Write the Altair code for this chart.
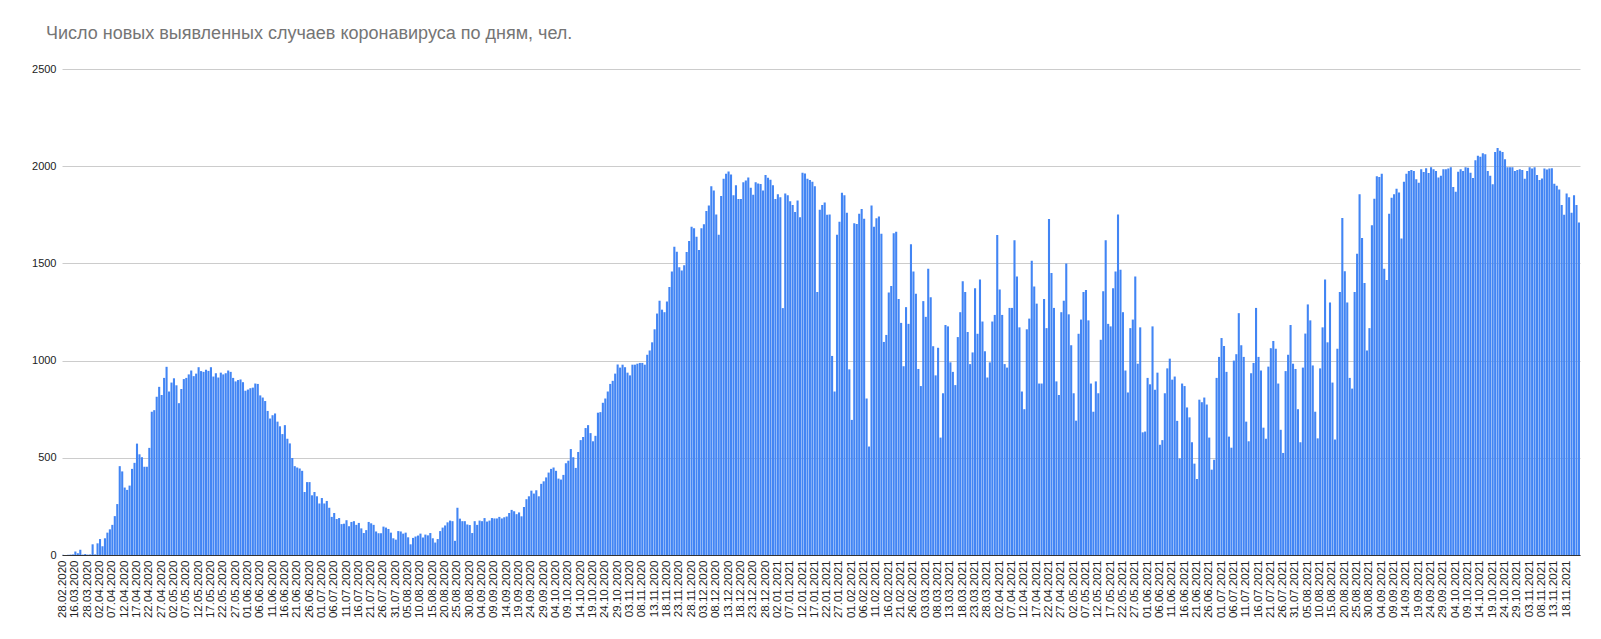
import altair as alt
import pandas as pd
from datetime import date, timedelta

# ---- categories (dates) ----
early_dates = ["28.02.2020", "02.03.2020", "05.03.2020", "06.03.2020", "11.03.2020",
               "16.03.2020", "17.03.2020", "19.03.2020", "21.03.2020", "25.03.2020"]
start, end = date(2020, 3, 28), date(2021, 11, 23)
daily_dates = [(start + timedelta(days=d)).strftime("%d.%m.%Y")
               for d in range((end - start).days + 1)]
dates = early_dates + daily_dates
tick_dates = dates[:611:5]

# ---- values ----
v_2020_mar_apr = [1, 0, 1, 2, 3, 18, 9, 27, 2, 5, 2, 3, 55, 3,
                  60, 82, 45, 86, 115, 132, 155, 200, 262, 457, 430, 347, 335, 357, 443, 474,
                  573, 518, 503, 454, 454, 551, 737, 745, 814, 865, 823, 911, 968, 841, 887,
                  909, 873, 781]
v_2020_may_jun = [854, 905, 911, 929, 949, 920, 933, 966, 946, 942, 953, 947, 966, 918, 935,
                  913, 938, 929, 935, 949, 942, 911, 893, 900, 903, 889, 845, 851, 858, 861,
                  882, 880, 821, 810, 792, 741, 702, 719, 728, 686, 662, 622, 668, 598, 574,
                  499, 457, 450]
v_2020_jul_aug = [445, 433, 324, 375, 375, 307, 324, 302, 265, 293, 265, 278, 243, 196, 216,
                  185, 190, 159, 161, 179, 148, 170, 174, 155, 165, 137, 113, 128, 170, 163,
                  155, 121, 112, 112, 146, 141, 134, 115, 86, 79, 123, 121, 110, 115, 91, 55,
                  88, 95, 100, 110, 90, 105]
v_2020_aug_sep = [101, 113, 86, 64, 82, 123, 141, 152, 168, 177, 174, 73, 243, 187, 174, 174,
                  157, 154, 113, 174, 155, 177, 174, 190, 172, 177, 190, 188, 188, 196, 188,
                  194, 198, 216, 232, 225, 210, 219, 199, 247, 287, 302, 331, 316, 333, 302,
                  366, 379, 399, 424, 443, 450]
v_2020_oct_nov = [433, 393, 388, 412, 472, 485, 545, 503, 448, 530, 591, 607, 653, 668, 627,
                  585, 613, 732, 735, 783, 805, 841, 880, 896, 933, 980, 964, 979, 966, 938,
                  924, 979, 979, 984, 988, 988, 979, 1030, 1052, 1094, 1161, 1242, 1308, 1262,
                  1249, 1304, 1379, 1458, 1586, 1560]
v_2020_dec = [1480, 1463, 1491, 1558, 1615, 1688, 1681, 1637, 1569, 1681, 1701, 1770, 1798,
              1897, 1875, 1752, 1648, 1847, 1935, 1961, 1973, 1957, 1851, 1902, 1831, 1831,
              1917, 1927, 1942, 1889, 1853, 1917, 1911, 1908, 1875, 1955, 1940, 1930, 1902,
              1831, 1856, 1840, 1270, 1860, 1851, 1820, 1801, 1765, 1824, 1738]
v_2021_jan_feb = [1966, 1962, 1935, 1929, 1920, 1897, 1353, 1776, 1801, 1813, 1750, 1752, 1024,
                  841, 1648, 1714, 1864, 1851, 1761, 955, 695, 1706, 1703, 1756, 1780, 1730,
                  805, 558, 1798, 1688, 1732, 1741, 1652, 1096, 1132, 1350, 1384, 1655, 1663,
                  1317, 1194, 971, 1275, 1189, 1599, 1458, 1344, 957, 869, 1306, 1225]
v_2021_mar_apr = [1472, 1326, 1074, 924, 1066, 604, 832, 1183, 1176, 991, 942, 874, 1121, 1249,
                  1408, 1353, 1147, 982, 1042, 1372, 1138, 1417, 1201, 1048, 913, 991, 1201,
                  1235, 1646, 1366, 1235, 982, 964, 1271, 1271, 1619, 1432, 1171, 841, 750,
                  1161, 1216, 1513, 1381, 1293, 882, 882, 1317, 1167, 1728, 1451]
v_2021_may_jun = [1271, 893, 823, 1249, 1308, 1500, 1238, 1079, 832, 691, 1138, 1211, 1353,
                  1363, 1207, 882, 737, 893, 832, 1107, 1357, 1619, 1189, 1176, 1372, 1458,
                  1752, 1467, 1249, 949, 836, 1167, 1211, 1432, 984, 1171, 631, 635, 911, 878,
                  1176, 850, 938, 567, 591, 832, 960, 1010, 902, 918]
v_2021_jun_jul = [690, 497, 882, 869, 759, 708, 580, 470, 391, 799, 786, 810, 774, 604, 439,
                  490, 911, 1019, 1116, 1075, 942, 609, 552, 1000, 1033, 1244, 1079, 1019, 686,
                  585, 935, 988, 1271, 1019, 949, 655, 598, 969, 1064, 1101, 1061, 882, 644,
                  525, 946, 1030, 1183, 984, 957, 750, 580]
v_2021_aug_sep = [964, 1139, 1289, 1207, 975, 737, 600, 960, 1171, 1417, 1094, 1299, 887, 594,
                  1061, 1353, 1734, 1460, 1299, 911, 856, 1353, 1549, 1856, 1631, 1399, 1052,
                  1167, 1696, 1833, 1948, 1944, 1961, 1472, 1414, 1756, 1838, 1856, 1884, 1865,
                  1628, 1920, 1961, 1975, 1981, 1975, 1933, 1915, 1984, 1970, 1990, 1965]
v_2021_sep_nov = [1994, 1984, 1975, 1942, 1951, 1984, 1984, 1988, 1994, 1893, 1869, 1972, 1984,
                  1975, 1994, 1992, 1966, 1939, 2030, 2054, 2048, 2067, 2061, 1975, 1951, 1907,
                  2073, 2094, 2080, 2073, 2036, 1994, 1994, 1994, 1975, 1981, 1984, 1981, 1935,
                  1975, 1994, 1988, 1994, 1955, 1929, 1937, 1988, 1983, 1988, 1990, 1910, 1900,
                  1880, 1800, 1750, 1860, 1840, 1760, 1850, 1800, 1710]

values = (v_2020_mar_apr + v_2020_may_jun + v_2020_jul_aug + v_2020_aug_sep + v_2020_oct_nov
          + v_2020_dec + v_2021_jan_feb + v_2021_mar_apr + v_2021_may_jun + v_2021_jun_jul
          + v_2021_aug_sep + v_2021_sep_nov)

n = min(len(dates), len(values))
df = pd.DataFrame({"date": dates[:n], "cases": values[:n]})

font = "Liberation Sans"

chart = alt.Chart(df).mark_bar(color="#4285F4").encode(
    x=alt.X("date:N", sort=None,
            scale=alt.Scale(paddingInner=0.15, paddingOuter=0),
            axis=alt.Axis(values=tick_dates, title=None, labelAngle=270,
                          labelFontSize=11.5, labelColor="#222222", labelFont=font,
                          ticks=False, domain=True, domainColor="#333333",
                          labelPadding=5, labelOverlap=False)),
    y=alt.Y("cases:Q",
            scale=alt.Scale(domain=[0, 2500], nice=False),
            axis=alt.Axis(values=[0, 500, 1000, 1500, 2000, 2500], title=None, format="d",
                          grid=True, gridColor="#cccccc", domain=False, ticks=False,
                          labelFontSize=11, labelColor="#222222", labelFont=font,
                          labelPadding=6)),
).properties(
    width=1518, height=486,
    autosize=alt.AutoSizeParams(type="none"),
    padding={"left": 62, "top": 69, "right": 21, "bottom": 84},
    title=alt.TitleParams("Число новых выявленных случаев коронавируса по дням, чел.",
                          anchor="start", frame="group", dx=-16, offset=6,
                          fontSize=18, font=font, color="#757575", fontWeight="normal",
                          baseline="alphabetic"),
).configure_view(strokeWidth=0)

chart.save("out.html", embed_options={"renderer": "svg", "actions": False})
